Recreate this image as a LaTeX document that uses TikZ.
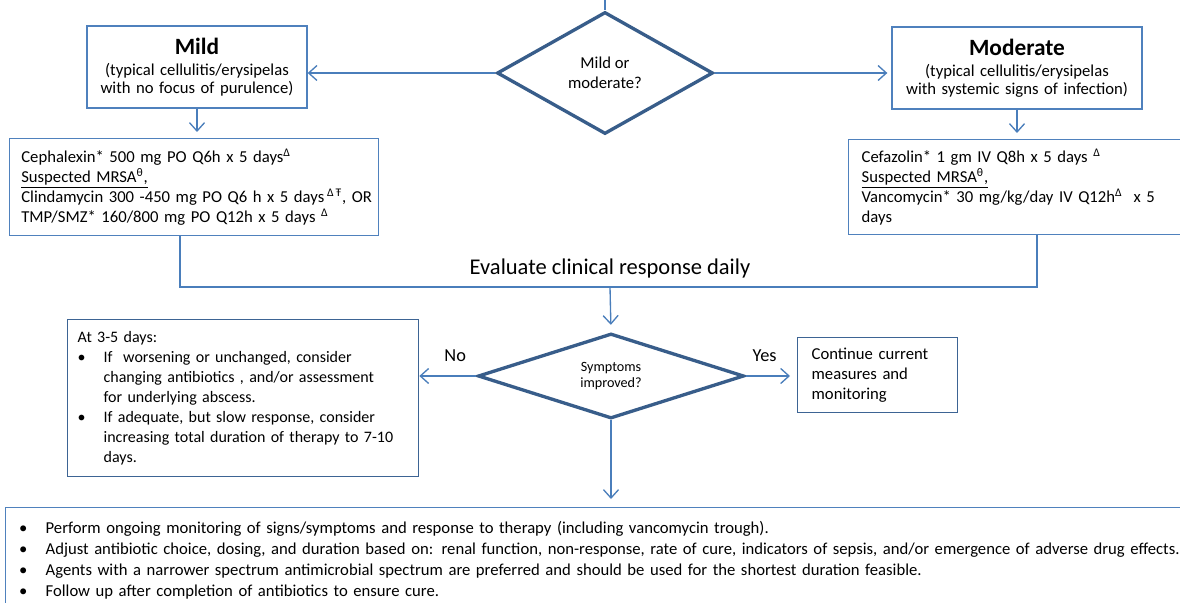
\documentclass[tikz,border=0pt]{standalone}
\usepackage{fontspec}
\setmainfont{Carlito}
\usetikzlibrary{positioning,shapes.geometric,arrows.meta}
\definecolor{boxc}{HTML}{4F81BD}
\definecolor{diac}{HTML}{385D8A}
\definecolor{arrc}{HTML}{4A7EBB}
\newcommand{\dlt}{\textsuperscript{Δ}}
\newcommand{\bul}[3]{\par\hangindent=#2\hangafter=1\noindent\makebox[#2][l]{\hspace{#1}\textbullet}#3\par}
\hfuzz=20pt

\begin{document}
\begin{tikzpicture}[x=0.6pt, y=-0.6pt, font=\fontsize{10}{12}\selectfont,
    box/.style={draw=boxc, line width=0.8pt, inner xsep=7.8pt, inner ysep=0pt,
                anchor=north west, align=left},
    dec/.style={diamond, draw=diac, line width=2pt, inner sep=0pt, align=center},
    link/.style={draw=arrc, line width=0.8pt},
    arr/.style={link, -{Straight Barb[length=5pt,width=9pt]}},
    lbl/.style={pos=0.37, above=5pt, font=\fontsize{11}{13}\selectfont}]
  \useasboundingbox (0,0) rectangle (1180,603);
  % severity split
  \coordinate (top) at (605,0);
  \node[dec, aspect=1.77, minimum width=129.6pt, minimum height=73.2pt] (sev) at (605,73) {Mild or\\moderate?};
  \node[box, anchor=center, align=center, text width=116.4pt, minimum height=49.2pt] (mild) at (197,67)
    {{\fontsize{14}{17}\selectfont\bfseries Mild}\\[1.5pt]\fontsize{10}{11}\selectfont(typical cellulitis/erysipelas\\with no focus of purulence)\par\vspace{-9pt}};
  \node[box, anchor=center, align=center, text width=134.4pt, minimum height=49.2pt] (mod) at (1017,68)
    {{\fontsize{14}{17}\selectfont\bfseries Moderate}\\[1.5pt]\fontsize{10}{11}\selectfont(typical cellulitis/erysipelas\\with systemic signs of infection)\par\vspace{-9pt}};
  % treatment
  \node[box, inner xsep=7pt, text width=207.4pt, minimum height=58.2pt] (lmed) at (9,138)
    {Cephalexin* 500 mg PO Q6h x 5 days\dlt\\
     \underline{Suspected MRSA\textsuperscript{θ},}\\
     \mbox{Clindamycin 300 -450 mg PO Q6 h x 5 days\,\textsuperscript{Δ\,Ŧ}, OR}\\
     TMP/SMZ* 160/800 mg PO Q12h x 5 days \dlt};
  \node[box, text width=195.6pt, minimum height=57pt] (rmed) at (848,139)
    {Cefazolin* 1 gm IV Q8h x 5 days \dlt\\
     \underline{Suspected MRSA\textsuperscript{θ},}\\
     Vancomycin* 30 mg/kg/day IV Q12h\dlt\ \ x 5\\
     days};
  % evaluation
  \node[font=\fontsize{13.5}{16}\selectfont] (evtxt) at (610,268) {Evaluate clinical response daily};
  \coordinate (evl) at (180,287);
  \coordinate (evr) at (1037,287);
  \coordinate (evm) at (610,287);
  \node[dec, aspect=3.1, minimum width=159.6pt, minimum height=51pt, font=\fontsize{8.5}{10}\selectfont] (symp) at (611,376) {Symptoms\\improved?};
  \node[box, inner xsep=6pt, text width=198.6pt, minimum height=94.2pt, draw=diac!80!boxc,
        font=\fontsize{9.6}{12}\selectfont] (worse) at (67,319)
    {At 3-5 days:
     \bul{0pt}{15.6pt}{If~ worsening or unchanged, consider\newline changing antibiotics , and/or assessment\newline for underlying abscess.}
     \bul{0pt}{15.6pt}{If adequate, but slow response, consider\newline \mbox{increasing total duration of therapy to 7-10}\newline days.}};
  \node[box, text width=79.2pt, inner xsep=8.4pt, minimum height=45pt, draw=diac!80!boxc] (cont) at (797,337)
    {Continue current\\measures and\\monitoring};
  \node[box, text width=699pt, inner xsep=9pt, minimum height=57.6pt, font=\fontsize{10}{12.6}\selectfont] (bot) at (5,507)
    {\bul{-1pt}{15pt}{Perform ongoing monitoring of signs/symptoms and response to therapy (including vancomycin trough).}
     \bul{-1pt}{15pt}{Adjust antibiotic choice, dosing, and duration based on: renal function, non-response, rate of cure, indicators of sepsis, and/or emergence of adverse drug effects.}
     \bul{-1pt}{15pt}{Agents with a narrower spectrum antimicrobial spectrum are preferred and should be used for the shortest duration feasible.}
     \bul{-1pt}{15pt}{Follow up after completion of antibiotics to ensure cure.}};
  % connectors
  \draw[link] (top) -- (sev.north);
  \draw[arr] (sev.west) -- (sev.west -| mild.east);
  \draw[arr, shorten >=2.4pt] (sev.east) -- (sev.east -| mod.west);
  \draw[arr, shorten >=3.6pt] (mild.south) -- (lmed.north -| mild.south);
  \draw[arr, shorten >=3.6pt] (mod.south) -- (rmed.north -| mod.south);
  \draw[link] (lmed.south -| evl) |- (evr) -- (rmed.south -| evr);
  \draw[arr, shorten >=4.2pt] (evm) -- (symp.north);
  \draw[arr] (symp.west) -- (symp.west -| worse.east) node[lbl] (no) {No};
  \draw[arr, shorten >=4.2pt] (symp.east) -- (symp.east -| cont.west) node[lbl] (yes) {Yes};
  \draw[arr, shorten >=4.8pt] (symp.south) -- (symp.south |- bot.north);
\end{tikzpicture}
\end{document}
